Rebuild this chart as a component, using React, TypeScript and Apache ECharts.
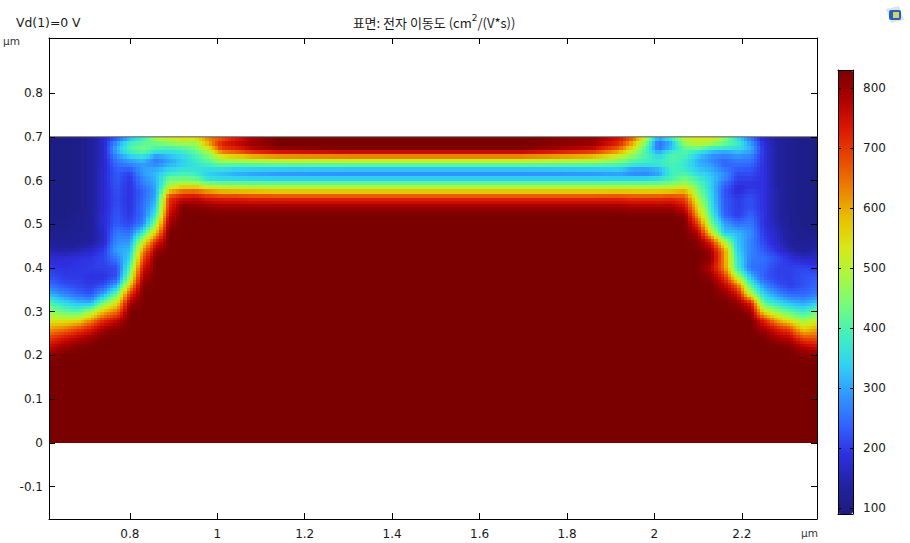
import React, { useEffect, useRef } from "react";
import * as echarts from "echarts";

const xNodes = [0.615,0.65,0.68,0.71,0.74,0.77,0.8,0.83,0.86,0.89,0.92,0.95,0.98,1.01,1.04,1.08,1.14,
  1.3,1.7,
  1.86,1.92,1.95,1.98,2.01,2.04,2.07,2.1,2.13,2.16,2.19,2.22,2.25,2.28,2.31,2.34,2.372];
const yNodes = [0.7,0.69,0.68,0.67,0.66,0.65,0.64,0.63,0.62,0.61,0.6,0.59,0.58,0.57,0.56,0.54,0.52,0.5,0.48,0.46,0.44,0.42,0.4,0.38,0.36,0.34,0.32,0.3,0.28,0.26,0.24,0.22,0.2,0.18,0];

const r70 = [100,100,105,125,170,210,280,380,500,540,570,580,620,640,700,780,830, 830,830, 800,750,680,510,320,410,510,540,570,480,340,250,160,130,115,105,100];
const r69 = [100,100,105,125,170,270,370,390,450,480,510,490,630,720,760,800,830, 830,830, 810,730,620,470,260,340,500,520,500,430,380,270,180,130,115,105,100];
const r68 = [100,100,105,125,170,300,400,440,410,420,440,450,570,720,750,790,830, 830,830, 790,690,570,420,230,300,440,480,440,420,380,310,185,135,115,105,100];
const r67 = [100,100,105,125,170,310,400,430,390,370,390,430,510,680,700,760,800, 820,820, 740,630,520,400,270,360,410,390,340,320,340,310,190,135,115,105,100];
const r66 = [100,100,105,125,170,290,360,390,320,340,360,400,460,580,610,650,680, 690,690, 640,550,470,400,330,400,400,350,300,280,300,280,190,135,115,105,100];
const r65 = [100,100,105,125,170,265,310,340,260,300,340,380,430,500,520,540,560, 570,570, 540,480,430,400,360,410,380,310,270,250,270,260,190,135,115,105,100];
const r64 = [100,100,105,125,170,250,280,300,260,300,330,370,400,440,440,440,450, 450,450, 440,420,390,370,380,400,370,310,290,230,250,250,190,135,115,105,100];
const r63 = [100,100,105,125,170,240,250,290,290,330,350,360,370,380,370,370,370, 370,370, 370,370,340,340,350,390,370,320,300,250,240,230,190,135,115,105,100];
const r62 = [100,100,105,125,175,230,210,300,320,360,380,370,340,330,310,300,290, 280,280, 290,300,260,250,280,390,390,340,320,270,220,220,190,135,115,105,100];
const r61 = [100,100,105,125,175,230,200,280,320,400,410,400,330,320,310,300,290, 290,290, 290,300,300,300,320,390,420,370,330,290,210,210,190,135,115,105,100];
const r60 = [100,100,105,125,175,230,190,270,310,450,450,440,390,380,380,380,380, 380,380, 380,380,380,380,390,410,450,400,340,260,200,200,190,135,115,105,100];
const r59 = [100,100,105,125,175,225,190,260,310,470,520,520,470,460,460,450,450, 450,450, 450,450,450,450,450,470,490,420,340,240,190,190,190,135,115,105,100];
const r58 = [100,100,105,125,175,220,190,240,300,540,610,610,570,550,540,540,530, 530,530, 530,530,530,530,530,540,570,440,340,230,180,200,190,140,115,105,100];
const r57 = [100,100,105,125,175,220,190,240,300,630,690,700,660,640,640,630,620, 620,620, 620,630,620,620,620,630,630,460,350,220,190,210,190,140,115,105,100];
const r56 = [100,100,105,125,175,215,190,240,310,700,750,760,730,720,720,710,710, 710,710, 710,710,700,700,700,710,680,490,350,230,200,220,190,140,115,105,100];
const r54 = [100,100,105,125,175,220,190,250,340,720,820,820,810,800,800,800,800, 800,800, 800,800,790,790,790,790,750,540,370,230,200,220,190,140,115,105,100];
const r52 = [100,100,110,125,180,225,195,250,390,760,830,830,830,830,830,830,830, 830,830, 830,830,830,830,830,830,810,600,400,240,200,240,190,140,120,105,100];
const r50 = [105,105,115,125,180,230,210,270,470,800,830,830,830,830,830,830,830, 830,830, 830,830,830,830,830,830,830,690,440,300,250,260,190,150,120,105,105];
const r48 = [110,110,120,125,170,260,250,380,580,830,830,830,830,830,830,830,830, 830,830, 830,830,830,830,830,830,830,780,540,330,320,280,200,165,125,110,110];
const r46 = [125,120,120,130,170,280,290,520,720,830,830,830,830,830,830,830,830, 830,830, 830,830,830,830,830,830,830,820,720,500,330,270,210,170,125,120,130];
const r44 = [150,140,150,170,200,300,320,620,800,830,830,830,830,830,830,830,830, 830,830, 830,830,830,830,830,830,830,830,790,620,340,270,230,190,150,125,150];
const r42 = [180,180,190,195,210,260,350,680,830,830,830,830,830,830,830,830,830, 830,830, 830,830,830,830,830,830,830,830,810,620,370,260,250,220,190,170,170];
const r40 = [200,190,195,200,205,215,410,740,830,830,830,830,830,830,830,830,830, 830,830, 830,830,830,830,830,830,830,830,770,630,380,250,240,205,205,210,200];
const r38 = [220,200,200,190,190,220,470,790,830,830,830,830,830,830,830,830,830, 830,830, 830,830,830,830,830,830,830,830,810,710,500,320,230,205,205,220,230];
const r36 = [250,220,210,200,215,300,570,820,830,830,830,830,830,830,830,830,830, 830,830, 830,830,830,830,830,830,830,830,830,770,650,400,280,225,200,220,240];
const r34 = [310,270,240,220,300,420,700,830,830,830,830,830,830,830,830,830,830, 830,830, 830,830,830,830,830,830,830,830,830,810,750,490,340,280,240,240,260];
const r32 = [400,350,320,310,440,540,790,830,830,830,830,830,830,830,830,830,830, 830,830, 830,830,830,830,830,830,830,830,830,830,810,730,410,360,320,300,330];
const r30 = [470,430,410,480,590,650,830,830,830,830,830,830,830,830,830,830,830, 830,830, 830,830,830,830,830,830,830,830,830,830,830,800,550,470,420,380,430];
const r28 = [530,530,540,620,710,760,830,830,830,830,830,830,830,830,830,830,830, 830,830, 830,830,830,830,830,830,830,830,830,830,830,830,720,600,530,470,510];
const r26 = [610,640,680,730,790,820,830,830,830,830,830,830,830,830,830,830,830, 830,830, 830,830,830,830,830,830,830,830,830,830,830,830,790,730,680,560,600];
const r24 = [690,740,770,800,830,830,830,830,830,830,830,830,830,830,830,830,830, 830,830, 830,830,830,830,830,830,830,830,830,830,830,830,830,790,770,680,670];
const r22 = [760,800,820,830,830,830,830,830,830,830,830,830,830,830,830,830,830, 830,830, 830,830,830,830,830,830,830,830,830,830,830,830,830,830,820,780,750];
const r20 = [810,830,830,830,830,830,830,830,830,830,830,830,830,830,830,830,830, 830,830, 830,830,830,830,830,830,830,830,830,830,830,830,830,830,830,820,810];
const r18 = [830,830,830,830,830,830,830,830,830,830,830,830,830,830,830,830,830, 830,830, 830,830,830,830,830,830,830,830,830,830,830,830,830,830,830,830,830];
const r00 = r18;
const rows = [r70,r69,r68,r67,r66,r65,r64,r63,r62,r61,r60,r59,r58,r57,r56,r54,r52,r50,r48,r46,r44,r42,r40,r38,r36,r34,r32,r30,r28,r26,r24,r22,r20,r18,r00];

const xTicks = [0.8, 1, 1.2, 1.4, 1.6, 1.8, 2, 2.2];
const yTicks = [-0.1, 0, 0.1, 0.2, 0.3, 0.4, 0.5, 0.6, 0.7, 0.8];
const barTicks = [100, 200, 300, 400, 500, 600, 700, 800];
const vMin = 90;
const vMax = 830;
const ramp = ["#1c1c7e","#2222a4","#2e2ee0","#3064ff","#3096ff","#30d0f4","#40f0c0","#70fc80",
  "#a8f840","#d8e818","#e8c000","#ec8000","#e84800","#dc1800","#b00000","#7a0000"];

const rampRgb = ramp.map((c) => [1, 3, 5].map((k) => parseInt(c.slice(k, k + 2), 16)));
function colorOf(v: number) {
  const t = Math.max(0, Math.min(1, (v - vMin) / (vMax - vMin))) * (ramp.length - 1);
  const i = Math.min(ramp.length - 2, Math.floor(t));
  const f = t - i;
  const a = rampRgb[i], b = rampRgb[i + 1];
  return `rgb(${a.map((q, k) => Math.round(q + (b[k] - q) * f)).join(",")})`;
}

const cells: number[][] = [];
for (let j = 0; j < yNodes.length - 1; j++) {
  for (let i = 0; i < xNodes.length - 1; i++) {
    cells.push([xNodes[i], yNodes[j], rows[j][i], i, j]);
  }
}

function renderCell(_: any, api: any) {
  const i = api.value(3), j = api.value(4);
  const p0 = api.coord([xNodes[i], yNodes[j]]);
  const p1 = api.coord([xNodes[i + 1], yNodes[j + 1]]);
  const v00 = rows[j][i], v10 = rows[j][i + 1], v01 = rows[j + 1][i], v11 = rows[j + 1][i + 1];
  const nx = v00 === v10 && v01 === v11 ? 1 : Math.max(1, Math.round((p1[0] - p0[0]) / 3));
  const ny = v00 === v01 && v10 === v11 ? 1 : Math.max(1, Math.round((p1[1] - p0[1]) / 3));
  const children: any[] = [];
  for (let b = 0; b < ny; b++) {
    const fy = (b + 0.5) / ny;
    const y0 = Math.round(p0[1] + ((p1[1] - p0[1]) * b) / ny);
    const y1 = Math.round(p0[1] + ((p1[1] - p0[1]) * (b + 1)) / ny);
    for (let a = 0; a < nx; a++) {
      const fx = (a + 0.5) / nx;
      const x0 = Math.round(p0[0] + ((p1[0] - p0[0]) * a) / nx);
      const x1 = Math.round(p0[0] + ((p1[0] - p0[0]) * (a + 1)) / nx);
      const v = (v00 * (1 - fx) + v10 * fx) * (1 - fy) + (v01 * (1 - fx) + v11 * fx) * fy;
      children.push({ type: "rect", silent: true, shape: { x: x0, y: y0, width: x1 - x0, height: y1 - y0 }, style: { fill: colorOf(v) } });
    }
  }
  return { type: "group", children };
}

const FONT = "DejaVu Sans";
const axisCommon = {
  axisLine: { onZero: false, lineStyle: { color: "#000", width: 1 } },
  splitLine: { show: false },
};
function tickAxis(extra: any, values: number[], labelled: boolean, len = 6, labelExtra: any = {}) {
  return {
    type: "value",
    ...axisCommon,
    axisTick: { show: true, inside: true, length: len, customValues: values, lineStyle: { color: "#000", width: 1 } },
    axisLabel: labelled
      ? { show: true, customValues: values, color: "#1a1a1a", fontFamily: FONT, fontSize: 12, margin: 9, ...labelExtra }
      : { show: false },
    ...extra,
  };
}

export default function App() {
  const ref = useRef<HTMLDivElement>(null);
  useEffect(() => {
    const chart = echarts.init(ref.current!, undefined, { renderer: "svg", width: 910, height: 543 });
    const xr = [xNodes[0], xNodes[xNodes.length - 1]];
    const yr = [-0.174, 0.926];
    chart.setOption({
      animation: false,
      backgroundColor: "#fff",
      title: {
        left: 429,
        top: 8,
        textAlign: "center",
        text: "{a|표면: 전자 이동도 (cm}{s|2}{a|/(V*s))}",
        textStyle: {
          fontWeight: "normal",
          rich: {
            a: { fontFamily: "Noto Sans CJK KR", fontWeight: "normal", fontSize: 13, color: "#1a1a1a", verticalAlign: "bottom", lineHeight: 16 },
            s: { fontFamily: FONT, fontWeight: "normal", fontSize: 9, color: "#1a1a1a", verticalAlign: "top", lineHeight: 16 },
          },
        },
      },
      grid: [
        { left: 49, top: 38, width: 768, height: 481, show: false },
        { left: 838, top: 70, width: 15, height: 444, show: false },
      ],
      xAxis: [
        tickAxis({ gridIndex: 0, min: xr[0], max: xr[1], position: "bottom", z: 5 }, xTicks, true),
        tickAxis({ gridIndex: 0, min: xr[0], max: xr[1], position: "top", z: 5 }, xTicks, false),
        { type: "value", gridIndex: 1, min: 0, max: 1, position: "bottom", z: 5, ...axisCommon, axisTick: { show: false }, axisLabel: { show: false } },
        { type: "value", gridIndex: 1, min: 0, max: 1, position: "top", z: 5, ...axisCommon, axisTick: { show: false }, axisLabel: { show: false } },
      ],
      yAxis: [
        tickAxis({ gridIndex: 0, min: yr[0], max: yr[1], position: "left", z: 5 }, yTicks, true, 6, { margin: 6, padding: [3, 0, 0, 0] }),
        tickAxis({ gridIndex: 0, min: yr[0], max: yr[1], position: "right", z: 5 }, yTicks, false),
        tickAxis({ gridIndex: 1, min: vMin, max: vMax, position: "left", z: 5 }, barTicks, false, 3),
        tickAxis({ gridIndex: 1, min: vMin, max: vMax, position: "right", z: 5 }, barTicks, false, 3),
        {
          type: "value", gridIndex: 1, min: vMin, max: vMax, position: "right", z: 5,
          axisLine: { show: false }, splitLine: { show: false }, axisTick: { show: false },
          axisLabel: { show: true, customValues: barTicks, inside: false, margin: 10, padding: [3, 0, 0, 0], color: "#1a1a1a", fontFamily: FONT, fontSize: 12 },
        },
      ],
      visualMap: {
        type: "continuous",
        show: true,
        seriesIndex: 0,
        dimension: 2,
        min: vMin,
        max: vMax,
        left: 838,
        top: 70,
        itemWidth: 15,
        itemHeight: 444,
        padding: 0,
        text: ["", ""],
        showLabel: false,
        calculable: false,
        realtime: false,
        z: 1,
        inRange: { color: ramp },
      },
      series: [
        {
          type: "custom",
          xAxisIndex: 0,
          yAxisIndex: 0,
          coordinateSystem: "cartesian2d",
          silent: true,
          data: cells,
          encode: { x: 0, y: 1 },
          renderItem: renderCell,
          z: 1,
        },
        {
          type: "line",
          xAxisIndex: 0,
          yAxisIndex: 0,
          silent: true,
          symbol: "none",
          lineStyle: { color: "#555", width: 1 },
          data: [[xr[0], yNodes[0]], [xr[1], yNodes[0]]],
          z: 3,
        },
      ],
      graphic: [
        { type: "text", left: 16, top: 16, style: { text: "Vd(1)=0 V", font: `12.4px '${FONT}'`, fill: "#1a1a1a" } },
        { type: "text", left: 3, top: 35, style: { text: "μm", font: `10.5px '${FONT}'`, fill: "#333" } },
        { type: "text", left: 801, top: 527, style: { text: "μm", font: `10.5px '${FONT}'`, fill: "#333" } },
        { type: "polygon", shape: { points: [[886, 9], [899, 6], [904, 20], [891, 23]] }, style: { fill: "#dfe3ea" } },
        { type: "rect", shape: { x: 889, y: 10, width: 12, height: 10, r: 2 }, style: { fill: "#1f66b8" } },
        { type: "rect", shape: { x: 893, y: 12, width: 6, height: 6 }, style: { fill: "#d8d070" } },
      ],
    });
    return () => chart.dispose();
  }, []);
  return <div ref={ref} style={{ position: "fixed", left: 0, top: 0, width: 910, height: 543, background: "#fff" }} />;
}
